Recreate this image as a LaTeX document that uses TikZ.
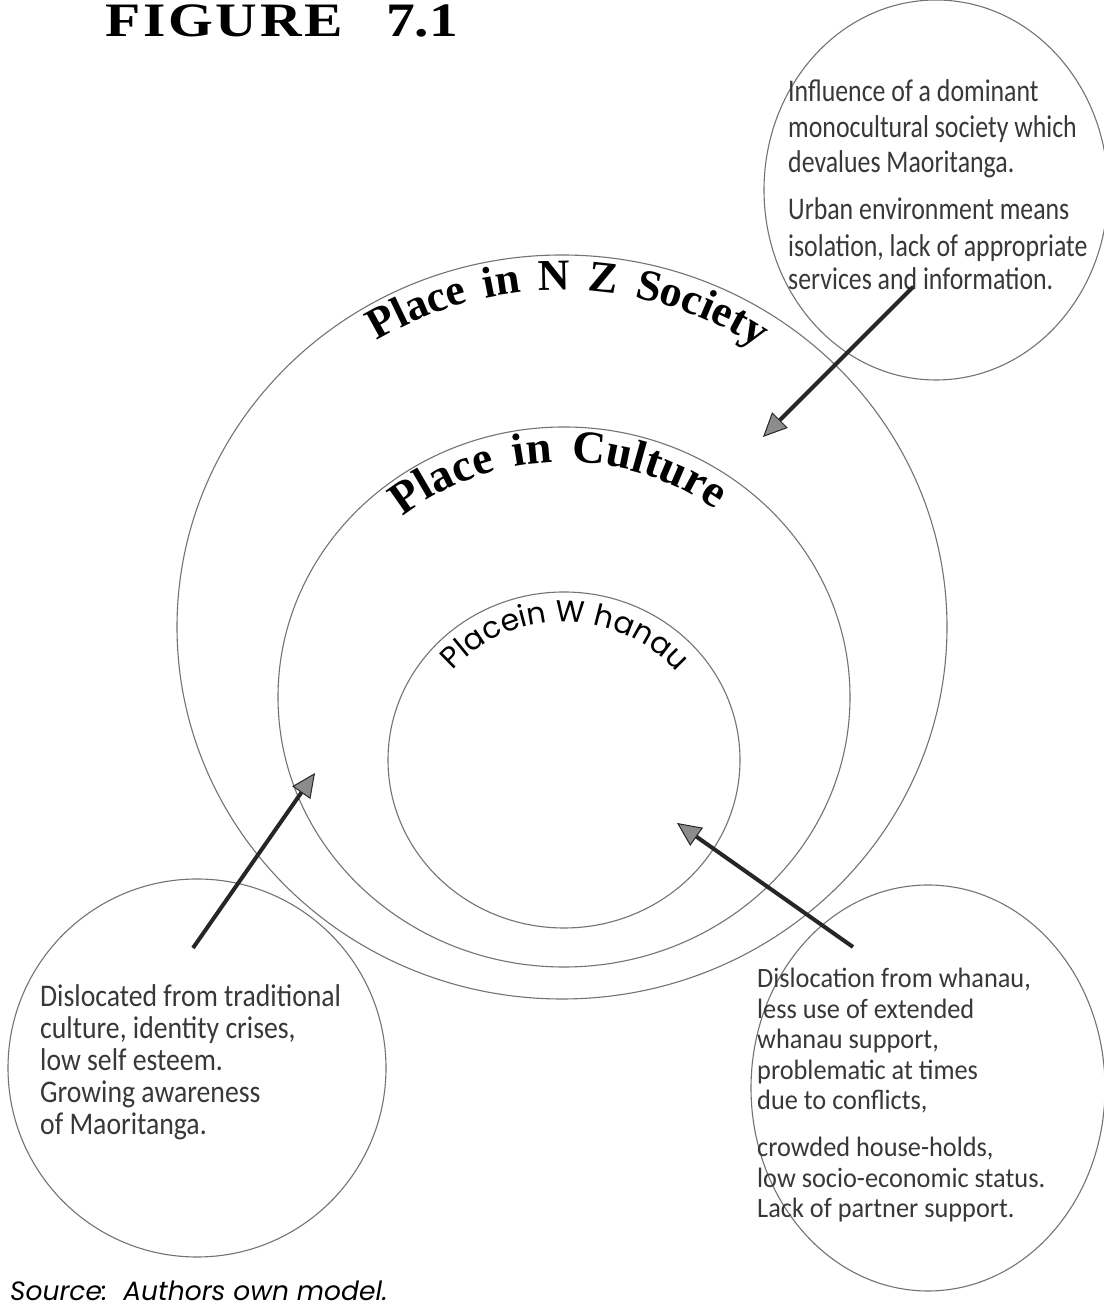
\documentclass[tikz,border=0pt]{standalone}
\usepackage{fontspec}
\setmainfont{Liberation Serif}
\newfontfamily\geofont{Poppins}
\newfontfamily\handfont[FakeStretch=0.82]{Carlito}
\newfontfamily\handfontb[FakeStretch=0.88]{Carlito}
\newfontfamily\handfontw[FakeStretch=0.94]{Carlito}
\usetikzlibrary{shapes.geometric,decorations.text,arrows.meta}
\begin{document}
\begin{tikzpicture}[x=1pt,y=1pt,
  ring/.style={ellipse, draw=black!55, line width=1.1pt, inner sep=0pt, outer sep=0pt},
  note/.style={anchor=base west, inner sep=0pt, text=black!78, font=\handfont\fontsize{31.5}{35}\selectfont},
  noteb/.style={anchor=base west, inner sep=0pt, text=black!78, font=\handfontb\fontsize{31.5}{35}\selectfont},
  notew/.style={anchor=base west, inner sep=0pt, text=black!78, font=\handfontw\fontsize{28}{30}\selectfont},
  ptr/.style={line width=4pt, draw=black!85, -{Triangle[length=24pt,width=22pt,line width=1pt,color=black!85,fill=black!45]}}
]
\useasboundingbox (0,0) rectangle (1103,1309);
\fill[white] (0,0) rectangle (1103,1309);

% title
\node[anchor=base west, inner sep=0pt] (title) at (105,1272)
  {\scalebox{1.2}[1]{\fontsize{48}{48}\selectfont\bfseries F\kern2.3pt I\kern2.3pt G\kern2.3pt U\kern2.3pt R\kern2.3pt E\hspace{36pt}7.1}};

% circles
\node[ring, minimum width=770pt, minimum height=744pt] (society) at (562,682) {};
\node[ring, minimum width=572pt, minimum height=540pt] (culture) at (564,612) {};
\node[ring, minimum width=352pt, minimum height=336pt] (whanau) at (564,549) {};
\node[ring, minimum width=344pt, minimum height=380pt] (influence) at (936,1119) {};
\node[ring, minimum width=378pt, minimum height=378pt] (dislocated) at (197,241) {};
\node[ring, minimum width=354pt, minimum height=406pt] (dislocation) at (928,221) {};

% curved labels
\path[decorate, decoration={text along path, text align=fit to path stretching spaces,
  text={|\bfseries\fontsize{44}{44}\selectfont|Place in N Z Society}}]
  ([shift={(122:350pt and 337pt)}]562,682) arc[start angle=122, end angle=56, x radius=350pt, y radius=337pt];
\path[decorate, decoration={text along path, text align=fit to path stretching spaces,
  text={|\bfseries\fontsize{46}{46}\selectfont|Place in Culture}}]
  ([shift={(130:251pt and 235pt)}]564,612) arc[start angle=130, end angle=53, x radius=251pt, y radius=235pt];
\path[decorate, decoration={text along path, text align=center,
  text={|\geofont\fontsize{30}{30}\selectfont|Placein W hanau}}]
  ([shift={(145:146pt and 138pt)}]564,549) arc[start angle=145, end angle=34, x radius=146pt, y radius=138pt];

% top-right notes
\node[note] (tr1) at (788,1207) {Influence of a dominant};
\node[note] (tr2) at (788,1171) {monocultural society which};
\node[note] (tr3) at (788,1136) {devalues Maoritanga.};
\node[note] (tr4) at (788,1089) {Urban environment means};
\node[note] (tr5) at (788,1052) {isolation, lack of appropriate};
\node[note] (tr6) at (788,1019) {services and information.};

% bottom-left notes
\node[noteb] (bl1) at (40,302) {Dislocated from traditional};
\node[noteb] (bl2) at (40,270) {culture, identity crises,};
\node[noteb] (bl3) at (40,238) {low self esteem.};
\node[noteb] (bl4) at (40,206) {Growing awareness};
\node[noteb] (bl5) at (40,174) {of Maoritanga.};

% bottom-right notes
\node[notew] (br1) at (757,321) {Dislocation from whanau,};
\node[notew] (br2) at (757,290.5) {less use of extended};
\node[notew] (br3) at (757,260) {whanau support,};
\node[notew] (br4) at (757,229.5) {problematic at times};
\node[notew] (br5) at (757,199) {due to conflicts,};
\node[notew] (br6) at (757,152) {crowded house-holds,};
\node[notew] (br7) at (757,121.5) {low socio-economic status.};
\node[notew] (br8) at (757,91) {Lack of partner support.};

% source
\node[anchor=base west, inner sep=0pt] (source) at (10,9)
  {\geofont\itshape\fontsize{26.5}{26.5}\selectfont Source:\ \ Authors own model.};

% arrows
\coordinate (trTail) at (913,1022);
\coordinate (trTip) at (763,872);
\coordinate (blTail) at (193,361);
\coordinate (blTip) at (315,536);
\coordinate (brTail) at (853,362);
\coordinate (brTip) at (677,486);
\draw[ptr] (trTail) -- (trTip);
\draw[ptr] (blTail) -- (blTip);
\draw[ptr] (brTail) -- (brTip);
\end{tikzpicture}
\end{document}
